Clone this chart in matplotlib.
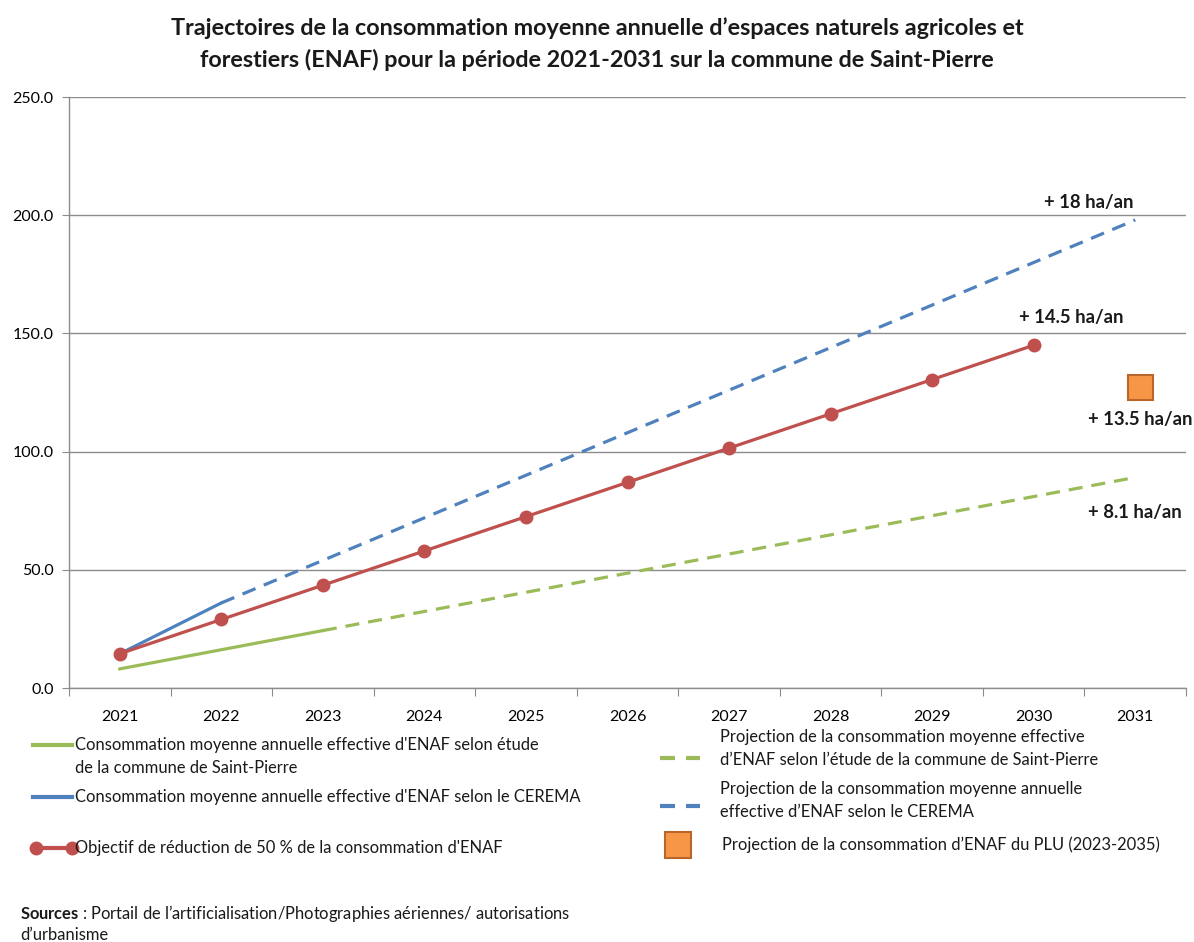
import matplotlib
matplotlib.use("Agg")
import matplotlib.pyplot as plt
from matplotlib.lines import Line2D

plt.rcParams['font.family'] = ['Lato', 'DejaVu Sans']
plt.rcParams['mathtext.fontset'] = 'custom'
plt.rcParams['mathtext.rm'] = 'Lato'
plt.rcParams['mathtext.bf'] = 'Lato:bold'

years = [2021, 2022, 2023, 2024, 2025, 2026, 2027, 2028, 2029, 2030, 2031]

# commune study (solid = observed, dashed = projection)
green_years = [2021, 2022, 2023]
green_vals = [8.1, 16.2, 24.3]
green_proj_years = [2023, 2024, 2025, 2026, 2027, 2028, 2029, 2030, 2031]
green_proj_vals = [24.3, 32.4, 40.5, 48.6, 56.7, 64.8, 72.9, 81.0, 89.1]

# CEREMA
blue_years = [2021, 2022]
blue_vals = [14.5, 36.0]
blue_proj_years = [2022, 2023, 2024, 2025, 2026, 2027, 2028, 2029, 2030, 2031]
blue_proj_vals = [36, 54, 72, 90, 108, 126, 144, 162, 180, 198]

# 50 % reduction objective
red_years = [2021, 2022, 2023, 2024, 2025, 2026, 2027, 2028, 2029, 2030]
red_vals = [14.5, 29.0, 43.5, 58.0, 72.5, 87.0, 101.5, 116.0, 130.5, 145.0]

# PLU projection
plu_year = 2031
plu_val = 127.5

# rate labels: (text, year, value)
rate_labels = [("+ 18 ha/an", 2030.54, 205.2),
               ("+ 14.5 ha/an", 2030.37, 156.9),
               ("+ 13.5 ha/an", 2031.05, 113.4),
               ("+ 8.1 ha/an", 2031.0, 74.4)]

title_lines = ["Trajectoires de la consommation moyenne annuelle d’espaces naturels agricoles et",
               "forestiers (ENAF) pour la période 2021-2031 sur la commune de Saint-Pierre"]

legend_labels = [
    ["Consommation moyenne annuelle effective d'ENAF selon étude",
     "de la commune de Saint-Pierre"],
    ["Consommation moyenne annuelle effective d'ENAF selon le CEREMA"],
    ["Objectif de réduction de 50 % de la consommation d'ENAF"],
    ["Projection de la consommation moyenne effective",
     "d’ENAF selon l’étude de la commune de Saint-Pierre"],
    ["Projection de la consommation moyenne annuelle",
     "effective d’ENAF selon le CEREMA"],
    ["Projection de la consommation d’ENAF du PLU (2023-2035)"],
]

GREEN = '#9BBB59'
BLUE = '#4F81BD'
RED = '#C0504D'
ORANGE = '#F79646'
ORANGE_EDGE = '#B8662A'
GRID = '#8C8C8C'
W, H = 1194, 942


def idx(y):
    return y - years[0]


def fx(px):
    return px / W


def fy(py):
    return 1 - py / H


fig = plt.figure(figsize=(W / 100, H / 100), dpi=100)
ax = fig.add_axes([0.0578, 0.2696, 0.9355, 0.6274])

dash = (4.4, 2.8)
lw = 2.3
ax.plot([idx(y) for y in green_proj_years], green_proj_vals, color=GREEN, lw=lw,
        dashes=dash, zorder=3)
ax.plot([idx(y) for y in green_years], green_vals, color=GREEN, lw=lw, zorder=3)
ax.plot([idx(y) for y in blue_proj_years], blue_proj_vals, color=BLUE, lw=lw,
        dashes=dash, zorder=3)
ax.plot([idx(y) for y in blue_years], blue_vals, color=BLUE, lw=lw, zorder=3)
ax.plot([idx(y) for y in red_years], red_vals, color=RED, lw=lw, marker='o',
        markersize=9, zorder=4)
ax.plot([idx(plu_year) + 0.05], [plu_val], marker='s', markersize=18,
        markerfacecolor=ORANGE, markeredgecolor=ORANGE_EDGE, markeredgewidth=1.5,
        linestyle='none', zorder=5)

for txt, yr, v in rate_labels:
    ax.text(idx(yr), v, txt, ha='center', va='center', fontsize=13.3,
            fontweight='bold', color='#1a1a1a')

ax.set_xlim(-0.5, 10.5)
ax.set_ylim(0, 250)
ax.set_yticks([0, 50, 100, 150, 200, 250])
ax.set_yticklabels(['%.1f' % v for v in [0, 50, 100, 150, 200, 250]])
ax.yaxis.grid(True, color=GRID, lw=1)
ax.set_axisbelow(True)

ax.set_xticks([i - 0.5 for i in range(len(years) + 1)])
ax.set_xticklabels([])
ax.set_xticks(range(len(years)), minor=True)
ax.set_xticklabels([str(y) for y in years], minor=True)
ax.tick_params(axis='x', which='major', length=6, color=GRID, direction='out')
ax.tick_params(axis='x', which='minor', length=0, pad=16, labelsize=11.5)
ax.tick_params(axis='y', length=5, color=GRID, labelsize=11.5, pad=6)

for s in ['top', 'right']:
    ax.spines[s].set_visible(False)
for s in ['left', 'bottom']:
    ax.spines[s].set_color(GRID)
    ax.spines[s].set_linewidth(1)

for line, py in zip(title_lines, [28, 60]):
    fig.text(0.5, fy(py), line, ha='center', va='center', fontsize=16.8,
             fontweight='bold', color='#1a1a1a')

# legend glyphs (figure pixel layout)
def legend_line(x0, x1, py, **kw):
    fig.add_artist(Line2D([fx(x0), fx(x1)], [fy(py), fy(py)],
                          transform=fig.transFigure, **kw))


legend_line(33, 72, 745, color=GREEN, lw=3)
legend_line(33, 72, 797, color=BLUE, lw=3)
legend_line(36, 72, 848, color=RED, lw=3, marker='o', markersize=9)
legend_line(660, 700, 758, color=GREEN, lw=3, dashes=(3.6, 2.64))
legend_line(660, 700, 806, color=BLUE, lw=3, dashes=(3.6, 2.64))
fig.add_artist(Line2D([fx(678)], [fy(845)], transform=fig.transFigure,
                      marker='s', markersize=19, markerfacecolor=ORANGE,
                      markeredgecolor=ORANGE_EDGE, markeredgewidth=1.5,
                      linestyle='none'))

label_pos = [(75, [745, 768]), (75, [797]), (75, [848]),
             (720, [737, 760]), (720, [789, 812]), (722, [845])]
for lines, (px, pys) in zip(legend_labels, label_pos):
    for line, py in zip(lines, pys):
        fig.text(fx(px), fy(py), line, ha='left', va='center', fontsize=11.9,
                 color='#1a1a1a')

fig.text(fx(20), fy(913), r"$\mathbf{Sources}$ : Portail de l’artificialisation/Photographies aériennes/ autorisations",
         ha='left', va='center', fontsize=11.9, color='#1a1a1a')
fig.text(fx(20), fy(935), "d’urbanisme", ha='left', va='center', fontsize=11.9,
         color='#1a1a1a')

fig.savefig('out.png', dpi=100, facecolor='white')
